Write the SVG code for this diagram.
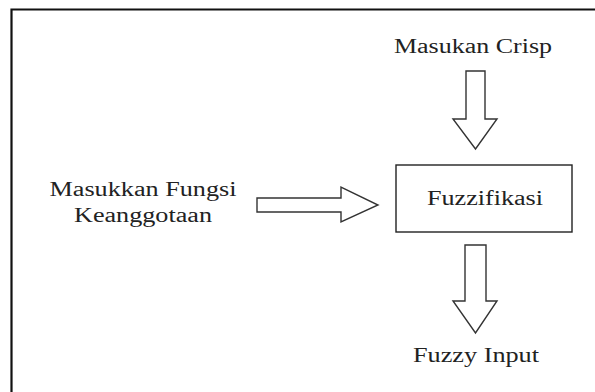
<svg xmlns="http://www.w3.org/2000/svg" width="595" height="392" viewBox="0 0 595 392">
<style>
text{font-family:"Liberation Serif","Times New Roman",serif;font-size:20px;fill:#222;text-anchor:middle}
.arrow{fill:#fff;stroke:#333;stroke-width:1.4;stroke-linejoin:miter}
.frame{fill:none;stroke:#111;stroke-width:2.2}
</style>
<rect width="595" height="392" fill="#fff"/>
<path class="frame" d="M11.5,392 V9.5 H595"/>
<g id="crisp">
<text x="473" y="53" textLength="158" lengthAdjust="spacingAndGlyphs">Masukan Crisp</text>
</g>
<g id="fungsi">
<text x="143" y="196" textLength="187" lengthAdjust="spacingAndGlyphs">Masukkan Fungsi</text>
<text x="143" y="222" textLength="138" lengthAdjust="spacingAndGlyphs">Keanggotaan</text>
</g>
<g id="fuzzifikasi">
<rect x="396" y="165" width="176" height="67" fill="#fff" stroke="#222" stroke-width="1.4"/>
<text x="485" y="205" textLength="116" lengthAdjust="spacingAndGlyphs">Fuzzifikasi</text>
</g>
<g id="fuzzyinput">
<text x="476" y="362" textLength="126" lengthAdjust="spacingAndGlyphs">Fuzzy Input</text>
</g>
<g id="connectors">
<path class="arrow" d="M466,71 H485 V119 H497 L475.5,149 L453,119 H466 Z"/>
<path class="arrow" d="M257,198 H341 V187 L378,205 L341,222 V212 H257 Z"/>
<path class="arrow" d="M465,245 H486 V301 H497 L475.5,333 L453,301 H465 Z"/>
</g>
</svg>
